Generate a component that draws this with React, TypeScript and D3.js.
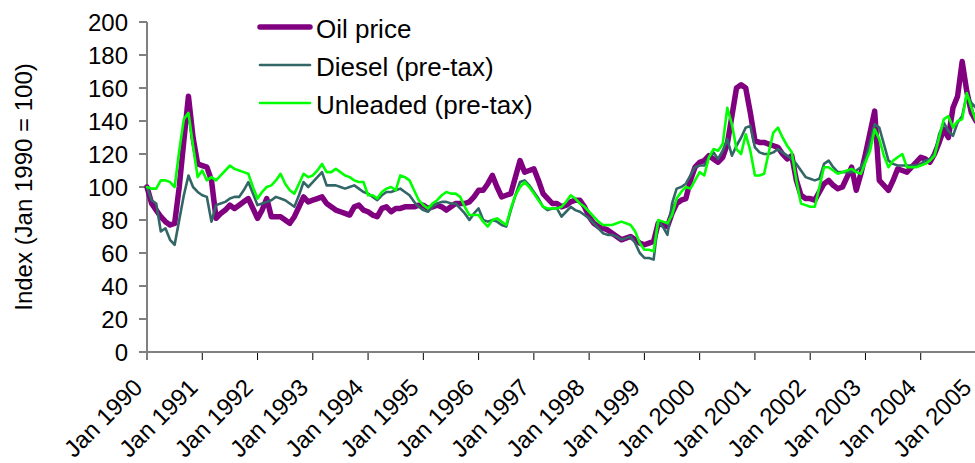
import React from "react";
import * as d3 from "d3";

// monthly index values, Jan 1990 .. Jan 2005 (Jan 1990 = 100)
const oilPrice = [
  100, 90, 86, 82, 79, 77, 78, 100, 128, 155, 130, 114,
  113, 112, 104, 81, 84, 86, 89, 87, 89, 91, 93, 87,
  81, 86, 93, 82, 82, 82, 80, 78, 82, 88, 94, 91,
  92, 93, 94, 90, 88, 86, 85, 84, 83, 88, 89, 86,
  85, 83, 82, 87, 88, 85, 87, 87, 88, 88, 88, 89,
  89, 87, 88, 89, 88, 86, 88, 90, 90, 90, 91, 94,
  98, 98, 102, 107, 100, 94, 95, 96, 106, 116, 109, 110,
  111, 104, 96, 93, 90, 90, 88, 89, 91, 92, 92, 88,
  82, 78, 76, 75, 74, 72, 70, 68, 69, 70, 68, 66,
  65, 66, 67, 78, 77, 76, 84, 90, 92, 93, 104, 112,
  115, 116, 119, 117, 115, 118, 126, 143, 160, 162, 160, 145,
  128, 127, 127, 126, 125, 124, 120, 117, 119, 104, 95, 93,
  93, 92, 97, 102, 104, 101, 99, 100, 106, 112, 98, 108,
  120, 133, 146, 104, 101, 98, 104, 111, 110, 109, 112, 115,
  118, 117, 115, 120, 127, 135, 130, 148, 155, 176, 158, 145,
  140,
];

const diesel = [
  100, 92, 90, 73, 75, 68, 65, 80, 95, 107, 100, 97,
  95, 94, 79, 89, 90, 91, 93, 94, 94, 98, 103, 96,
  89, 90, 91, 92, 94, 93, 92, 90, 88, 95, 103, 100,
  103, 106, 109, 101, 101, 101, 100, 99, 100, 101, 99, 97,
  96, 94, 92, 95, 97, 97, 98, 99, 97, 95, 91, 88,
  86, 85, 88, 90, 91, 91, 90, 90, 87, 84, 80, 84,
  87, 80, 79, 80, 79, 77, 76, 86, 95, 103, 104, 101,
  97, 93, 88, 86, 87, 87, 82, 85, 88, 86, 85, 83,
  81, 78, 75, 72, 71, 71, 70, 68, 69, 70, 66, 60,
  57, 57, 56, 79, 76, 71, 90, 99, 100, 102, 107, 112,
  113, 113, 118, 121, 117, 122, 129, 119, 125, 130, 136, 137,
  124, 121, 120, 120, 121, 123, 121, 119, 117, 114, 110, 106,
  105, 104, 105, 114, 116, 112, 109, 109, 109, 109, 110, 112,
  117, 127, 138, 136, 126, 116, 114, 113, 113, 113, 113, 113,
  114, 116, 117, 120, 132, 139, 134, 131, 139, 143, 156, 151,
  148,
];

const unleaded = [
  100, 99, 99, 104, 104, 103, 100, 122, 141, 145, 125, 106,
  110, 104, 106, 104, 107, 110, 113, 111, 110, 109, 108, 100,
  93, 97, 100, 101, 104, 108, 102, 98, 96, 102, 108, 106,
  107, 110, 114, 109, 109, 111, 109, 107, 106, 104, 103, 103,
  95, 95, 93, 97, 99, 100, 98, 107, 106, 104, 98, 92,
  89, 87, 90, 92, 95, 97, 96, 96, 94, 88, 83, 83,
  83, 79, 76, 80, 81, 79, 77, 87, 95, 100, 103, 100,
  96, 92, 88, 87, 87, 87, 88, 91, 95, 93, 90, 88,
  85, 82, 79, 77, 77, 77, 78, 79, 78, 77, 73, 66,
  62, 62, 61, 80, 79, 78, 83, 93, 97, 100, 99, 104,
  109, 107, 118, 123, 122, 126, 148, 138, 123, 120, 132, 122,
  107, 107, 108, 121, 133, 136, 130, 125, 121, 104, 90, 89,
  88, 88, 100, 112, 112, 110, 108, 109, 110, 111, 109, 108,
  115, 122, 135, 129, 119, 112, 116, 118, 120, 112, 112, 112,
  113, 114, 116, 119, 130, 141, 143, 136, 140, 141, 157, 148,
  140,
];

const yearLabels = [
  "Jan 1990", "Jan 1991", "Jan 1992", "Jan 1993", "Jan 1994", "Jan 1995",
  "Jan 1996", "Jan 1997", "Jan 1998", "Jan 1999", "Jan 2000", "Jan 2001",
  "Jan 2002", "Jan 2003", "Jan 2004", "Jan 2005",
];
const yTicks = [0, 20, 40, 60, 80, 100, 120, 140, 160, 180, 200];

const seriesNames = ["Oil price", "Diesel (pre-tax)", "Unleaded (pre-tax)"];
const seriesColors = ["#800080", "#336666", "#00ff00"];
const seriesWidths = [5.5, 2.6, 2.6];

const W = 975;
const H = 463;
const FONT = "'Liberation Sans', Arial, sans-serif";

export default function App() {
  const x = d3.scaleLinear().domain([0, 180]).range([147, 976]);
  const y = d3.scaleLinear().domain([0, 200]).range([352, 22]);

  const line = d3
    .line<number>()
    .x((_, i) => x(i))
    .y(d => y(d));

  const series = [oilPrice, diesel, unleaded];

  return (
    <svg
      width={W}
      height={H}
      style={{ position: "absolute", left: 0, top: 0, background: "#fff" }}
      fontFamily={FONT}
    >
      {/* y axis title */}
      <text
        transform={`translate(32,187) rotate(-90)`}
        textAnchor="middle"
        fontSize={24}
        fill="#000"
      >
        Index (Jan 1990 = 100)
      </text>

      {/* y ticks */}
      {yTicks.map(t => (
        <g key={t}>
          <line x1={139} x2={147} y1={y(t)} y2={y(t)} stroke="#000" strokeWidth={1} />
          <text x={128} y={y(t) + 9} textAnchor="end" fontSize={24} fill="#000">
            {t}
          </text>
        </g>
      ))}

      {/* x ticks */}
      {yearLabels.map((lab, k) => {
        const px = x(k * 12);
        return (
          <g key={lab}>
            <line x1={px} x2={px} y1={352} y2={360} stroke="#000" strokeWidth={1} />
            <text
              transform={`translate(${px - 9},383) rotate(-45)`}
              textAnchor="end"
              dy="0.35em"
              fontSize={24}
              fill="#000"
            >
              {lab}
            </text>
          </g>
        );
      })}

      {/* axes */}
      <line x1={147} x2={147} y1={22} y2={353} stroke="#808080" strokeWidth={2} />
      <line x1={146} x2={W} y1={352} y2={352} stroke="#808080" strokeWidth={2} />

      {/* series */}
      {series.map((data, s) => (
        <path
          key={s}
          d={line(data) ?? ""}
          fill="none"
          stroke={seriesColors[s]}
          strokeWidth={seriesWidths[s]}
          strokeLinejoin="round"
          strokeLinecap="round"
        />
      ))}

      {/* legend */}
      {seriesNames.map((name, k) => {
        const ly = 27 + k * 38;
        return (
          <g key={name}>
            <line
              x1={260}
              x2={310}
              y1={ly}
              y2={ly}
              stroke={seriesColors[k]}
              strokeWidth={seriesWidths[k]}
              strokeLinecap="round"
            />
            <text x={316} y={ly + 10.5} fontSize={26} fill="#000">
              {name}
            </text>
          </g>
        );
      })}
    </svg>
  );
}
